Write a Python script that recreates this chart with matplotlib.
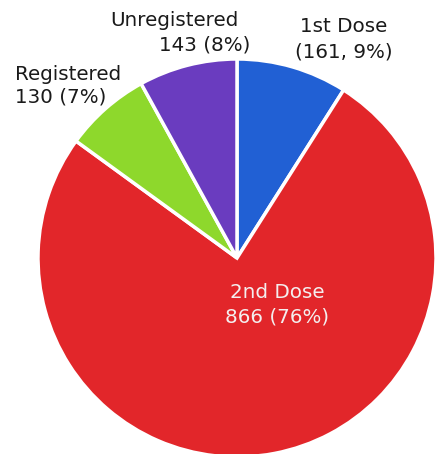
import matplotlib.pyplot as plt

# slice data (order clockwise from 12 o'clock)
names = ['1st Dose', '2nd Dose', 'Registered', 'Unregistered']
counts = [161, 866, 130, 143]
pcts = [9, 76, 7, 8]
colors = ['#2160d4', '#e2262a', '#8ed82c', '#6a3cbf']

fig = plt.figure(figsize=(4.38, 4.54), dpi=100)
ax = fig.add_axes([0, 0, 1, 1])
ax.set_aspect('equal')
ax.axis('off')

ax.pie(pcts, colors=colors, startangle=90, counterclock=False,
       center=(237, 196), radius=199,
       wedgeprops=dict(edgecolor='white', linewidth=2.5))
ax.set_xlim(0, 438)
ax.set_ylim(0, 454)

fs = 14.3
dark = '#1a1a1a'
light = '#f4eeee'
# 1st Dose
ax.text(344, 427, names[0], ha='center', va='center', fontsize=fs, color=dark)
ax.text(344, 402, f"({counts[0]}, {pcts[0]}%)", ha='center', va='center', fontsize=fs, color=dark)
# Unregistered
ax.text(238, 434, names[3], ha='right', va='center', fontsize=fs, color=dark)
ax.text(250, 409, f"{counts[3]} ({pcts[3]}%)", ha='right', va='center', fontsize=fs, color=dark)
# Registered
ax.text(15, 379, names[2], ha='left', va='center', fontsize=fs, color=dark)
ax.text(15, 357, f"{counts[2]} ({pcts[2]}%)", ha='left', va='center', fontsize=fs, color=dark)
# 2nd Dose
ax.text(277, 162, names[1], ha='center', va='center', fontsize=fs, color=light)
ax.text(277, 137, f"{counts[1]} ({pcts[1]}%)", ha='center', va='center', fontsize=fs, color=light)

fig.savefig('out.png', dpi=100)
